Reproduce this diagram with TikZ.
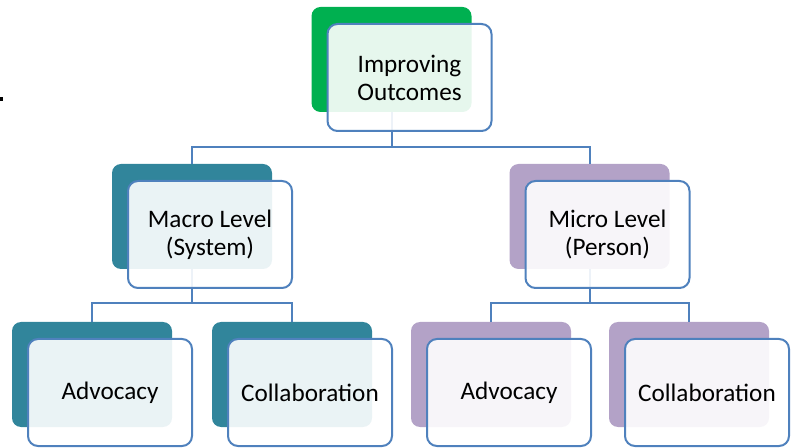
\documentclass[tikz,border=0pt]{standalone}
\usepackage{fontspec}
\setmainfont{Carlito}
\usepackage{tikz}
\usetikzlibrary{positioning}
\definecolor{topgreen}{RGB}{0,176,80}
\definecolor{macroteal}{RGB}{49,133,155}
\definecolor{microlilac}{RGB}{179,162,199}
\definecolor{edgeblue}{RGB}{79,129,189}
\tikzset{
  backbox/.style={
    rectangle, rounded corners=9pt, draw=none,
    minimum width=160pt, minimum height=105pt, inner sep=0pt
  },
  frontbox/.style={
    rectangle, rounded corners=10pt, draw=edgeblue, line width=2pt,
    fill=white, fill opacity=0.9, text opacity=1,
    minimum width=164pt, minimum height=107pt, inner sep=2pt,
    align=center, font=\fontsize{25.2}{28}\selectfont,
    xshift=18pt, yshift=-18pt
  },
  link/.style={draw=edgeblue, line width=2pt},
}
\begin{document}
\begin{tikzpicture}[x=1pt, y=1pt]
  \useasboundingbox (0,0) rectangle (792,447);
  \fill (0,346) rectangle (2.5,350);

  % back plates
  \node[backbox, fill=topgreen] (top-back) at (391.5,387.5) {};
  \node[backbox, fill=macroteal] (macro-back) at (192,230.5) {};
  \node[backbox, fill=microlilac] (micro-back) at (589.5,230.5) {};
  \node[backbox, fill=macroteal] (madv-back) at (92,72.5) {};
  \node[backbox, fill=macroteal] (mcol-back) at (292,72.5) {};
  \node[backbox, fill=microlilac] (padv-back) at (491,72.5) {};
  \node[backbox, fill=microlilac] (pcol-back) at (689,72.5) {};

  % connectors
  \draw[link] (top-back.south) -- ++(0,-35) -| (macro-back.north);
  \draw[link] (top-back.south) -- ++(0,-35) -| (micro-back.north);
  \draw[link] (macro-back.south) -- ++(0,-34) -| (madv-back.north);
  \draw[link] (macro-back.south) -- ++(0,-34) -| (mcol-back.north);
  \draw[link] (micro-back.south) -- ++(0,-34) -| (padv-back.north);
  \draw[link] (micro-back.south) -- ++(0,-34) -| (pcol-back.north);

  % front cards
  \node[frontbox] (top) at (top-back) {Improving\\Outcomes};
  \node[frontbox] (macro) at (macro-back) {Macro Level\\(System)};
  \node[frontbox] (micro) at (micro-back) {Micro Level\\(Person)};
  \node[frontbox] (madv) at (madv-back) {Advocacy};
  \node[frontbox] (mcol) at (mcol-back) {Collaboration};
  \node[frontbox] (padv) at (padv-back) {Advocacy};
  \node[frontbox] (pcol) at (pcol-back) {Collaboration};
\end{tikzpicture}
\end{document}
